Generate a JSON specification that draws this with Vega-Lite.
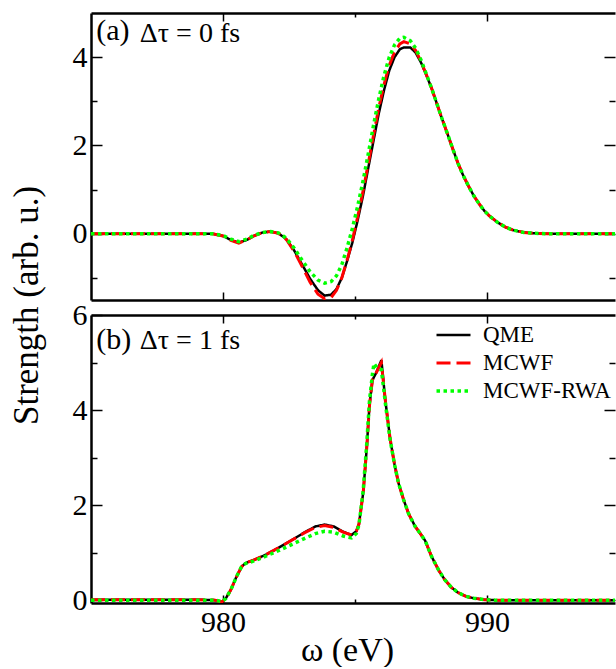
{
  "$schema": "https://vega.github.io/schema/vega-lite/v6.json",
  "background": "white",
  "padding": {"left": 9, "top": 12, "right": 0, "bottom": 0},
  "config": {
    "font": "Times New Roman, Liberation Serif, Times, serif",
    "view": {"stroke": null},
    "axis": {
      "labelFont": "Times New Roman, Liberation Serif, Times, serif", "titleFont": "Times New Roman, Liberation Serif, Times, serif",
      "labelFontSize": 30, "titleFontSize": 34, "titleFontWeight": "normal",
      "labelColor": "black", "titleColor": "black", "tickColor": "black", "domainColor": "black",
      "domainWidth": 2.5, "tickWidth": 1.5, "grid": false, "labelFlush": false, "labelOverlap": false
    },
    "legend": {"labelFont": "Times New Roman, Liberation Serif, Times, serif"},
    "text": {"font": "Times New Roman, Liberation Serif, Times, serif"}
  },
  "datasets": {
    "curves": [
      {"p":"a","s":"QME","x":975,"y":0},{"p":"a","s":"QME","x":979,"y":0},{"p":"a","s":"QME","x":979.6,"y":0},{"p":"a","s":"QME","x":980,"y":-0.05},{"p":"a","s":"QME","x":980.3,"y":-0.14},{"p":"a","s":"QME","x":980.6,"y":-0.2},{"p":"a","s":"QME","x":980.9,"y":-0.14},{"p":"a","s":"QME","x":981.2,"y":-0.04},{"p":"a","s":"QME","x":981.5,"y":0.03},{"p":"a","s":"QME","x":981.8,"y":0.05},{"p":"a","s":"QME","x":982.1,"y":0.01},{"p":"a","s":"QME","x":982.4,"y":-0.12},{"p":"a","s":"QME","x":982.7,"y":-0.38},{"p":"a","s":"QME","x":983,"y":-0.7},{"p":"a","s":"QME","x":983.3,"y":-1.02},{"p":"a","s":"QME","x":983.6,"y":-1.28},{"p":"a","s":"QME","x":983.85,"y":-1.4},{"p":"a","s":"QME","x":984.1,"y":-1.38},{"p":"a","s":"QME","x":984.3,"y":-1.25},{"p":"a","s":"QME","x":984.5,"y":-1.0},{"p":"a","s":"QME","x":984.7,"y":-0.62},{"p":"a","s":"QME","x":984.9,"y":-0.2},{"p":"a","s":"QME","x":985.1,"y":0.3},{"p":"a","s":"QME","x":985.3,"y":0.85},{"p":"a","s":"QME","x":985.5,"y":1.48},{"p":"a","s":"QME","x":985.7,"y":2.1},{"p":"a","s":"QME","x":985.9,"y":2.72},{"p":"a","s":"QME","x":986.1,"y":3.25},{"p":"a","s":"QME","x":986.3,"y":3.7},{"p":"a","s":"QME","x":986.5,"y":4.0},{"p":"a","s":"QME","x":986.7,"y":4.18},{"p":"a","s":"QME","x":986.85,"y":4.22},{"p":"a","s":"QME","x":987.1,"y":4.22},{"p":"a","s":"QME","x":987.3,"y":4.1},{"p":"a","s":"QME","x":987.5,"y":3.88},{"p":"a","s":"QME","x":987.7,"y":3.6},{"p":"a","s":"QME","x":987.9,"y":3.3},{"p":"a","s":"QME","x":988.1,"y":2.95},{"p":"a","s":"QME","x":988.3,"y":2.6},{"p":"a","s":"QME","x":988.5,"y":2.27},{"p":"a","s":"QME","x":988.7,"y":1.93},{"p":"a","s":"QME","x":988.9,"y":1.6},{"p":"a","s":"QME","x":989.1,"y":1.32},{"p":"a","s":"QME","x":989.3,"y":1.08},{"p":"a","s":"QME","x":989.5,"y":0.86},{"p":"a","s":"QME","x":989.7,"y":0.68},{"p":"a","s":"QME","x":989.9,"y":0.52},{"p":"a","s":"QME","x":990.1,"y":0.4},{"p":"a","s":"QME","x":990.4,"y":0.26},{"p":"a","s":"QME","x":990.7,"y":0.15},{"p":"a","s":"QME","x":991,"y":0.08},{"p":"a","s":"QME","x":991.4,"y":0.03},{"p":"a","s":"QME","x":991.8,"y":0.01},{"p":"a","s":"QME","x":992.3,"y":0},{"p":"a","s":"QME","x":995,"y":0},
      {"p":"a","s":"MCWF","x":975,"y":0},{"p":"a","s":"MCWF","x":979,"y":0},{"p":"a","s":"MCWF","x":979.6,"y":0},{"p":"a","s":"MCWF","x":980,"y":-0.05},{"p":"a","s":"MCWF","x":980.3,"y":-0.15},{"p":"a","s":"MCWF","x":980.6,"y":-0.21},{"p":"a","s":"MCWF","x":980.9,"y":-0.14},{"p":"a","s":"MCWF","x":981.2,"y":-0.04},{"p":"a","s":"MCWF","x":981.5,"y":0.03},{"p":"a","s":"MCWF","x":981.8,"y":0.05},{"p":"a","s":"MCWF","x":982.1,"y":0.01},{"p":"a","s":"MCWF","x":982.4,"y":-0.13},{"p":"a","s":"MCWF","x":982.7,"y":-0.4},{"p":"a","s":"MCWF","x":983,"y":-0.74},{"p":"a","s":"MCWF","x":983.3,"y":-1.1},{"p":"a","s":"MCWF","x":983.6,"y":-1.37},{"p":"a","s":"MCWF","x":983.85,"y":-1.47},{"p":"a","s":"MCWF","x":984.1,"y":-1.44},{"p":"a","s":"MCWF","x":984.3,"y":-1.28},{"p":"a","s":"MCWF","x":984.5,"y":-1.0},{"p":"a","s":"MCWF","x":984.7,"y":-0.6},{"p":"a","s":"MCWF","x":984.9,"y":-0.15},{"p":"a","s":"MCWF","x":985.1,"y":0.38},{"p":"a","s":"MCWF","x":985.3,"y":0.95},{"p":"a","s":"MCWF","x":985.5,"y":1.58},{"p":"a","s":"MCWF","x":985.7,"y":2.22},{"p":"a","s":"MCWF","x":985.9,"y":2.85},{"p":"a","s":"MCWF","x":986.1,"y":3.38},{"p":"a","s":"MCWF","x":986.3,"y":3.82},{"p":"a","s":"MCWF","x":986.5,"y":4.12},{"p":"a","s":"MCWF","x":986.7,"y":4.3},{"p":"a","s":"MCWF","x":986.85,"y":4.35},{"p":"a","s":"MCWF","x":987.1,"y":4.3},{"p":"a","s":"MCWF","x":987.3,"y":4.15},{"p":"a","s":"MCWF","x":987.5,"y":3.9},{"p":"a","s":"MCWF","x":987.7,"y":3.61},{"p":"a","s":"MCWF","x":987.9,"y":3.3},{"p":"a","s":"MCWF","x":988.1,"y":2.95},{"p":"a","s":"MCWF","x":988.3,"y":2.6},{"p":"a","s":"MCWF","x":988.5,"y":2.27},{"p":"a","s":"MCWF","x":988.7,"y":1.93},{"p":"a","s":"MCWF","x":988.9,"y":1.6},{"p":"a","s":"MCWF","x":989.1,"y":1.32},{"p":"a","s":"MCWF","x":989.3,"y":1.08},{"p":"a","s":"MCWF","x":989.5,"y":0.86},{"p":"a","s":"MCWF","x":989.7,"y":0.68},{"p":"a","s":"MCWF","x":989.9,"y":0.52},{"p":"a","s":"MCWF","x":990.1,"y":0.4},{"p":"a","s":"MCWF","x":990.4,"y":0.26},{"p":"a","s":"MCWF","x":990.7,"y":0.15},{"p":"a","s":"MCWF","x":991,"y":0.08},{"p":"a","s":"MCWF","x":991.4,"y":0.03},{"p":"a","s":"MCWF","x":991.8,"y":0.01},{"p":"a","s":"MCWF","x":992.3,"y":0},{"p":"a","s":"MCWF","x":995,"y":0},
      {"p":"a","s":"MCWF-RWA","x":975,"y":0},{"p":"a","s":"MCWF-RWA","x":979,"y":0},{"p":"a","s":"MCWF-RWA","x":979.6,"y":0},{"p":"a","s":"MCWF-RWA","x":980,"y":-0.04},{"p":"a","s":"MCWF-RWA","x":980.3,"y":-0.12},{"p":"a","s":"MCWF-RWA","x":980.6,"y":-0.18},{"p":"a","s":"MCWF-RWA","x":980.9,"y":-0.12},{"p":"a","s":"MCWF-RWA","x":981.2,"y":-0.03},{"p":"a","s":"MCWF-RWA","x":981.5,"y":0.03},{"p":"a","s":"MCWF-RWA","x":981.8,"y":0.05},{"p":"a","s":"MCWF-RWA","x":982.1,"y":0.02},{"p":"a","s":"MCWF-RWA","x":982.4,"y":-0.1},{"p":"a","s":"MCWF-RWA","x":982.7,"y":-0.33},{"p":"a","s":"MCWF-RWA","x":983,"y":-0.6},{"p":"a","s":"MCWF-RWA","x":983.3,"y":-0.86},{"p":"a","s":"MCWF-RWA","x":983.6,"y":-1.05},{"p":"a","s":"MCWF-RWA","x":983.85,"y":-1.12},{"p":"a","s":"MCWF-RWA","x":984.1,"y":-1.08},{"p":"a","s":"MCWF-RWA","x":984.3,"y":-0.95},{"p":"a","s":"MCWF-RWA","x":984.5,"y":-0.7},{"p":"a","s":"MCWF-RWA","x":984.7,"y":-0.32},{"p":"a","s":"MCWF-RWA","x":984.9,"y":0.12},{"p":"a","s":"MCWF-RWA","x":985.1,"y":0.62},{"p":"a","s":"MCWF-RWA","x":985.3,"y":1.18},{"p":"a","s":"MCWF-RWA","x":985.5,"y":1.8},{"p":"a","s":"MCWF-RWA","x":985.7,"y":2.45},{"p":"a","s":"MCWF-RWA","x":985.9,"y":3.05},{"p":"a","s":"MCWF-RWA","x":986.1,"y":3.58},{"p":"a","s":"MCWF-RWA","x":986.3,"y":4.0},{"p":"a","s":"MCWF-RWA","x":986.5,"y":4.28},{"p":"a","s":"MCWF-RWA","x":986.7,"y":4.43},{"p":"a","s":"MCWF-RWA","x":986.85,"y":4.45},{"p":"a","s":"MCWF-RWA","x":987.1,"y":4.37},{"p":"a","s":"MCWF-RWA","x":987.3,"y":4.2},{"p":"a","s":"MCWF-RWA","x":987.5,"y":3.94},{"p":"a","s":"MCWF-RWA","x":987.7,"y":3.62},{"p":"a","s":"MCWF-RWA","x":987.9,"y":3.3},{"p":"a","s":"MCWF-RWA","x":988.1,"y":2.95},{"p":"a","s":"MCWF-RWA","x":988.3,"y":2.6},{"p":"a","s":"MCWF-RWA","x":988.5,"y":2.27},{"p":"a","s":"MCWF-RWA","x":988.7,"y":1.93},{"p":"a","s":"MCWF-RWA","x":988.9,"y":1.6},{"p":"a","s":"MCWF-RWA","x":989.1,"y":1.32},{"p":"a","s":"MCWF-RWA","x":989.3,"y":1.08},{"p":"a","s":"MCWF-RWA","x":989.5,"y":0.86},{"p":"a","s":"MCWF-RWA","x":989.7,"y":0.68},{"p":"a","s":"MCWF-RWA","x":989.9,"y":0.52},{"p":"a","s":"MCWF-RWA","x":990.1,"y":0.4},{"p":"a","s":"MCWF-RWA","x":990.4,"y":0.26},{"p":"a","s":"MCWF-RWA","x":990.7,"y":0.15},{"p":"a","s":"MCWF-RWA","x":991,"y":0.08},{"p":"a","s":"MCWF-RWA","x":991.4,"y":0.03},{"p":"a","s":"MCWF-RWA","x":991.8,"y":0.01},{"p":"a","s":"MCWF-RWA","x":992.3,"y":0},{"p":"a","s":"MCWF-RWA","x":995,"y":0},
      {"p":"b","s":"QME","x":975,"y":0.01},{"p":"b","s":"QME","x":979,"y":0.01},{"p":"b","s":"QME","x":979.7,"y":0},{"p":"b","s":"QME","x":979.95,"y":-0.04},{"p":"b","s":"QME","x":980.1,"y":0.03},{"p":"b","s":"QME","x":980.3,"y":0.22},{"p":"b","s":"QME","x":980.5,"y":0.48},{"p":"b","s":"QME","x":980.7,"y":0.7},{"p":"b","s":"QME","x":980.85,"y":0.78},{"p":"b","s":"QME","x":981.15,"y":0.84},{"p":"b","s":"QME","x":981.6,"y":0.95},{"p":"b","s":"QME","x":982.1,"y":1.1},{"p":"b","s":"QME","x":982.6,"y":1.26},{"p":"b","s":"QME","x":983.1,"y":1.43},{"p":"b","s":"QME","x":983.5,"y":1.55},{"p":"b","s":"QME","x":983.85,"y":1.59},{"p":"b","s":"QME","x":984.2,"y":1.55},{"p":"b","s":"QME","x":984.55,"y":1.44},{"p":"b","s":"QME","x":984.87,"y":1.37},{"p":"b","s":"QME","x":985.05,"y":1.45},{"p":"b","s":"QME","x":985.15,"y":1.6},{"p":"b","s":"QME","x":985.31,"y":2.25},{"p":"b","s":"QME","x":985.44,"y":3.16},{"p":"b","s":"QME","x":985.55,"y":4.1},{"p":"b","s":"QME","x":985.66,"y":4.63},{"p":"b","s":"QME","x":985.8,"y":4.78},{"p":"b","s":"QME","x":986,"y":5.05},{"p":"b","s":"QME","x":986.15,"y":4.2},{"p":"b","s":"QME","x":986.33,"y":3.4},{"p":"b","s":"QME","x":986.5,"y":2.85},{"p":"b","s":"QME","x":986.65,"y":2.46},{"p":"b","s":"QME","x":986.85,"y":2.1},{"p":"b","s":"QME","x":987.03,"y":1.82},{"p":"b","s":"QME","x":987.28,"y":1.55},{"p":"b","s":"QME","x":987.45,"y":1.42},{"p":"b","s":"QME","x":987.66,"y":1.25},{"p":"b","s":"QME","x":987.9,"y":0.92},{"p":"b","s":"QME","x":988.17,"y":0.63},{"p":"b","s":"QME","x":988.4,"y":0.43},{"p":"b","s":"QME","x":988.65,"y":0.27},{"p":"b","s":"QME","x":988.9,"y":0.16},{"p":"b","s":"QME","x":989.2,"y":0.08},{"p":"b","s":"QME","x":989.5,"y":0.04},{"p":"b","s":"QME","x":989.9,"y":0.01},{"p":"b","s":"QME","x":990.3,"y":0},{"p":"b","s":"QME","x":995,"y":0},
      {"p":"b","s":"MCWF","x":975,"y":0.01},{"p":"b","s":"MCWF","x":979,"y":0.01},{"p":"b","s":"MCWF","x":979.7,"y":0},{"p":"b","s":"MCWF","x":979.95,"y":-0.04},{"p":"b","s":"MCWF","x":980.1,"y":0.03},{"p":"b","s":"MCWF","x":980.3,"y":0.22},{"p":"b","s":"MCWF","x":980.5,"y":0.48},{"p":"b","s":"MCWF","x":980.7,"y":0.7},{"p":"b","s":"MCWF","x":980.85,"y":0.78},{"p":"b","s":"MCWF","x":981.15,"y":0.84},{"p":"b","s":"MCWF","x":981.6,"y":0.95},{"p":"b","s":"MCWF","x":982.1,"y":1.1},{"p":"b","s":"MCWF","x":982.6,"y":1.26},{"p":"b","s":"MCWF","x":983.1,"y":1.42},{"p":"b","s":"MCWF","x":983.5,"y":1.53},{"p":"b","s":"MCWF","x":983.85,"y":1.57},{"p":"b","s":"MCWF","x":984.2,"y":1.53},{"p":"b","s":"MCWF","x":984.55,"y":1.43},{"p":"b","s":"MCWF","x":984.87,"y":1.37},{"p":"b","s":"MCWF","x":985.05,"y":1.45},{"p":"b","s":"MCWF","x":985.15,"y":1.6},{"p":"b","s":"MCWF","x":985.31,"y":2.25},{"p":"b","s":"MCWF","x":985.44,"y":3.16},{"p":"b","s":"MCWF","x":985.55,"y":4.1},{"p":"b","s":"MCWF","x":985.66,"y":4.63},{"p":"b","s":"MCWF","x":985.8,"y":4.78},{"p":"b","s":"MCWF","x":986,"y":5.0},{"p":"b","s":"MCWF","x":986.15,"y":4.2},{"p":"b","s":"MCWF","x":986.33,"y":3.4},{"p":"b","s":"MCWF","x":986.5,"y":2.85},{"p":"b","s":"MCWF","x":986.65,"y":2.46},{"p":"b","s":"MCWF","x":986.85,"y":2.1},{"p":"b","s":"MCWF","x":987.03,"y":1.82},{"p":"b","s":"MCWF","x":987.28,"y":1.55},{"p":"b","s":"MCWF","x":987.45,"y":1.42},{"p":"b","s":"MCWF","x":987.66,"y":1.25},{"p":"b","s":"MCWF","x":987.9,"y":0.92},{"p":"b","s":"MCWF","x":988.17,"y":0.63},{"p":"b","s":"MCWF","x":988.4,"y":0.43},{"p":"b","s":"MCWF","x":988.65,"y":0.27},{"p":"b","s":"MCWF","x":988.9,"y":0.16},{"p":"b","s":"MCWF","x":989.2,"y":0.08},{"p":"b","s":"MCWF","x":989.5,"y":0.04},{"p":"b","s":"MCWF","x":989.9,"y":0.01},{"p":"b","s":"MCWF","x":990.3,"y":0},{"p":"b","s":"MCWF","x":995,"y":0},
      {"p":"b","s":"MCWF-RWA","x":975,"y":0},{"p":"b","s":"MCWF-RWA","x":979,"y":0},{"p":"b","s":"MCWF-RWA","x":979.7,"y":0},{"p":"b","s":"MCWF-RWA","x":979.95,"y":-0.03},{"p":"b","s":"MCWF-RWA","x":980.1,"y":0.03},{"p":"b","s":"MCWF-RWA","x":980.3,"y":0.22},{"p":"b","s":"MCWF-RWA","x":980.5,"y":0.48},{"p":"b","s":"MCWF-RWA","x":980.7,"y":0.7},{"p":"b","s":"MCWF-RWA","x":980.85,"y":0.77},{"p":"b","s":"MCWF-RWA","x":981.15,"y":0.82},{"p":"b","s":"MCWF-RWA","x":981.6,"y":0.92},{"p":"b","s":"MCWF-RWA","x":982.1,"y":1.04},{"p":"b","s":"MCWF-RWA","x":982.6,"y":1.17},{"p":"b","s":"MCWF-RWA","x":983.1,"y":1.3},{"p":"b","s":"MCWF-RWA","x":983.5,"y":1.4},{"p":"b","s":"MCWF-RWA","x":983.85,"y":1.45},{"p":"b","s":"MCWF-RWA","x":984.2,"y":1.43},{"p":"b","s":"MCWF-RWA","x":984.55,"y":1.35},{"p":"b","s":"MCWF-RWA","x":984.87,"y":1.31},{"p":"b","s":"MCWF-RWA","x":985.05,"y":1.4},{"p":"b","s":"MCWF-RWA","x":985.15,"y":1.58},{"p":"b","s":"MCWF-RWA","x":985.31,"y":2.3},{"p":"b","s":"MCWF-RWA","x":985.44,"y":3.25},{"p":"b","s":"MCWF-RWA","x":985.55,"y":4.2},{"p":"b","s":"MCWF-RWA","x":985.66,"y":4.75},{"p":"b","s":"MCWF-RWA","x":985.72,"y":4.98},{"p":"b","s":"MCWF-RWA","x":985.85,"y":4.88},{"p":"b","s":"MCWF-RWA","x":986,"y":4.85},{"p":"b","s":"MCWF-RWA","x":986.15,"y":4.15},{"p":"b","s":"MCWF-RWA","x":986.33,"y":3.38},{"p":"b","s":"MCWF-RWA","x":986.5,"y":2.85},{"p":"b","s":"MCWF-RWA","x":986.65,"y":2.46},{"p":"b","s":"MCWF-RWA","x":986.85,"y":2.1},{"p":"b","s":"MCWF-RWA","x":987.03,"y":1.82},{"p":"b","s":"MCWF-RWA","x":987.28,"y":1.55},{"p":"b","s":"MCWF-RWA","x":987.45,"y":1.42},{"p":"b","s":"MCWF-RWA","x":987.66,"y":1.25},{"p":"b","s":"MCWF-RWA","x":987.9,"y":0.92},{"p":"b","s":"MCWF-RWA","x":988.17,"y":0.63},{"p":"b","s":"MCWF-RWA","x":988.4,"y":0.43},{"p":"b","s":"MCWF-RWA","x":988.65,"y":0.27},{"p":"b","s":"MCWF-RWA","x":988.9,"y":0.16},{"p":"b","s":"MCWF-RWA","x":989.2,"y":0.08},{"p":"b","s":"MCWF-RWA","x":989.5,"y":0.04},{"p":"b","s":"MCWF-RWA","x":989.9,"y":0.01},{"p":"b","s":"MCWF-RWA","x":990.3,"y":0},{"p":"b","s":"MCWF-RWA","x":995,"y":0}
    ],
    "labels": [
      {"p":"a","tag":"(a)","cond":"Δτ = 0 fs"},
      {"p":"b","tag":"(b)","cond":"Δτ = 1 fs"}
    ]
  },
  "spacing": 15,
  "bounds": "flush",
  "resolve": {"legend": {"color": "independent", "strokeDash": "independent", "strokeWidth": "independent"}},
  "vconcat": [
    {
      "width": 524, "height": 287,
      "resolve": {"axis": {"x": "independent", "y": "independent"}},
      "layer": [
        {
          "data": {"name": "curves"},
          "transform": [{"filter": "datum.p == 'a'"}],
          "mark": {"type": "line", "clip": true},
          "encoding": {
            "x": {"field": "x", "type": "quantitative", "scale": {"domain": [975, 994.85], "nice": false, "zero": false},
                  "axis": {"orient": "bottom", "values": [980, 990], "labels": false, "tickSize": -8, "title": null}},
            "y": {"field": "y", "type": "quantitative", "scale": {"domain": [-1.5, 5], "nice": false, "zero": false},
                  "axis": {"orient": "left", "values": [0, 2, 4], "tickSize": -11, "labelPadding": 15, "format": "d", "title": null}},
            "color": {"field": "s", "type": "nominal", "scale": {"domain": ["QME", "MCWF", "MCWF-RWA"], "range": ["#000000", "#ff0000", "#00ff00"]}, "legend": null},
            "strokeDash": {"field": "s", "type": "nominal", "scale": {"domain": ["QME", "MCWF", "MCWF-RWA"], "range": [[1, 0], [14, 6], [3.5, 3.5]]}, "legend": null},
            "strokeWidth": {"field": "s", "type": "ordinal", "scale": {"domain": ["QME", "MCWF", "MCWF-RWA"], "range": [2.5, 3.5, 3.5]}, "legend": null}
          }
        },
        {
          "data": {"name": "curves"},
          "transform": [{"filter": "datum.p == 'a'"}],
          "mark": {"type": "point", "opacity": 0},
          "encoding": {
            "x": {"field": "x", "type": "quantitative", "axis": {"orient": "bottom", "values": [985], "labels": false, "domain": false, "tickSize": -4, "title": null}},
            "y": {"field": "y", "type": "quantitative", "axis": {"orient": "left", "values": [-1, 1, 3], "labels": false, "domain": false, "tickSize": -6, "title": null}}
          }
        },
        {
          "data": {"name": "curves"},
          "transform": [{"filter": "datum.p == 'a'"}],
          "mark": {"type": "point", "opacity": 0},
          "encoding": {
            "x": {"field": "x", "type": "quantitative", "axis": {"orient": "top", "values": [980, 990], "labels": false, "tickSize": -8, "title": null}},
            "y": {"field": "y", "type": "quantitative", "axis": {"orient": "right", "values": [0, 2, 4], "labels": false, "domain": false, "tickSize": -11, "title": null}}
          }
        },
        {
          "data": {"name": "curves"},
          "transform": [{"filter": "datum.p == 'a'"}],
          "mark": {"type": "point", "opacity": 0},
          "encoding": {
            "x": {"field": "x", "type": "quantitative", "axis": {"orient": "top", "values": [985], "labels": false, "domain": false, "tickSize": -4, "title": null}},
            "y": {"field": "y", "type": "quantitative", "axis": {"orient": "right", "values": [-1, 1, 3], "labels": false, "domain": false, "tickSize": -6, "title": null}}
          }
        },
        {
          "data": {"name": "labels"},
          "transform": [{"filter": "datum.p == 'a'"}],
          "mark": {"type": "text", "fontSize": 30, "align": "left", "baseline": "alphabetic", "color": "black"},
          "encoding": {
            "x": {"datum": 975.2, "type": "quantitative", "axis": null},
            "y": {"datum": 4.39, "type": "quantitative", "axis": null},
            "text": {"field": "tag"}
          }
        },
        {
          "data": {"name": "labels"},
          "transform": [{"filter": "datum.p == 'a'"}],
          "mark": {"type": "text", "fontSize": 28, "align": "left", "baseline": "alphabetic", "color": "black"},
          "encoding": {
            "x": {"datum": 976.85, "type": "quantitative", "axis": null},
            "y": {"datum": 4.34, "type": "quantitative", "axis": null},
            "text": {"field": "cond"}
          }
        }
      ]
    },
    {
      "width": 524, "height": 288,
      "resolve": {"axis": {"x": "independent", "y": "independent"}},
      "layer": [
        {
          "data": {"name": "curves"},
          "transform": [{"filter": "datum.p == 'b'"}],
          "mark": {"type": "line", "clip": true},
          "encoding": {
            "x": {"field": "x", "type": "quantitative", "scale": {"domain": [975, 994.85], "nice": false, "zero": false},
                  "axis": {"orient": "bottom", "values": [980, 990], "tickSize": -8, "labelPadding": 12, "format": "d",
                           "title": "ω (eV)", "titleX": 256, "titleY": 57, "titleBaseline": "alphabetic", "titleAlign": "center"}},
            "y": {"field": "y", "type": "quantitative", "scale": {"domain": [-0.06, 6], "nice": false, "zero": false},
                  "axis": {"orient": "left", "values": [0, 2, 4, 6], "tickSize": -11, "labelPadding": 15, "format": "d",
                           "title": "Strength (arb. u.)", "titleFontSize": 35, "titleX": -53.7, "titleY": -10, "titleAngle": 270, "titleBaseline": "alphabetic", "titleAlign": "center"}},
            "color": {"field": "s", "type": "nominal", "scale": {"domain": ["QME", "MCWF", "MCWF-RWA"], "range": ["#000000", "#ff0000", "#00ff00"]},
                      "legend": {"title": null, "orient": "none", "legendX": 351, "legendY": 8.5, "labelFontSize": 23, "labelColor": "black", "symbolSize": 289, "symbolStrokeWidth": 3, "symbolType": "M-2,0H2", "labelOffset": 18, "rowPadding": 4, "padding": 0}},
            "strokeDash": {"field": "s", "type": "nominal", "scale": {"domain": ["QME", "MCWF", "MCWF-RWA"], "range": [[1, 0], [14, 6], [3.5, 3.5]]},
                      "legend": {"title": null, "orient": "none", "legendX": 351, "legendY": 8.5, "labelFontSize": 23, "labelColor": "black", "symbolSize": 289, "symbolStrokeWidth": 3, "symbolType": "M-2,0H2", "labelOffset": 18, "rowPadding": 4, "padding": 0}},
            "strokeWidth": {"field": "s", "type": "ordinal", "scale": {"domain": ["QME", "MCWF", "MCWF-RWA"], "range": [2.5, 3.5, 3.5]}, "legend": null}
          }
        },
        {
          "data": {"name": "curves"},
          "transform": [{"filter": "datum.p == 'b'"}],
          "mark": {"type": "point", "opacity": 0},
          "encoding": {
            "x": {"field": "x", "type": "quantitative", "axis": {"orient": "bottom", "values": [985], "labels": false, "domain": false, "tickSize": -4, "title": null}},
            "y": {"field": "y", "type": "quantitative", "axis": {"orient": "left", "values": [1, 3, 5], "labels": false, "domain": false, "tickSize": -6, "title": null}}
          }
        },
        {
          "data": {"name": "curves"},
          "transform": [{"filter": "datum.p == 'b'"}],
          "mark": {"type": "point", "opacity": 0},
          "encoding": {
            "x": {"field": "x", "type": "quantitative", "axis": {"orient": "top", "values": [980, 990], "labels": false, "tickSize": -8, "title": null}},
            "y": {"field": "y", "type": "quantitative", "axis": {"orient": "right", "values": [0, 2, 4], "labels": false, "domain": false, "tickSize": -11, "title": null}}
          }
        },
        {
          "data": {"name": "curves"},
          "transform": [{"filter": "datum.p == 'b'"}],
          "mark": {"type": "point", "opacity": 0},
          "encoding": {
            "x": {"field": "x", "type": "quantitative", "axis": {"orient": "top", "values": [985], "labels": false, "domain": false, "tickSize": -4, "title": null}},
            "y": {"field": "y", "type": "quantitative", "axis": {"orient": "right", "values": [1, 3, 5], "labels": false, "domain": false, "tickSize": -6, "title": null}}
          }
        },
        {
          "data": {"name": "labels"},
          "transform": [{"filter": "datum.p == 'b'"}],
          "mark": {"type": "text", "fontSize": 30, "align": "left", "baseline": "alphabetic", "color": "black"},
          "encoding": {
            "x": {"datum": 975.2, "type": "quantitative", "axis": null},
            "y": {"datum": 5.28, "type": "quantitative", "axis": null},
            "text": {"field": "tag"}
          }
        },
        {
          "data": {"name": "labels"},
          "transform": [{"filter": "datum.p == 'b'"}],
          "mark": {"type": "text", "fontSize": 28, "align": "left", "baseline": "alphabetic", "color": "black"},
          "encoding": {
            "x": {"datum": 976.85, "type": "quantitative", "axis": null},
            "y": {"datum": 5.28, "type": "quantitative", "axis": null},
            "text": {"field": "cond"}
          }
        }
      ]
    }
  ]
}
